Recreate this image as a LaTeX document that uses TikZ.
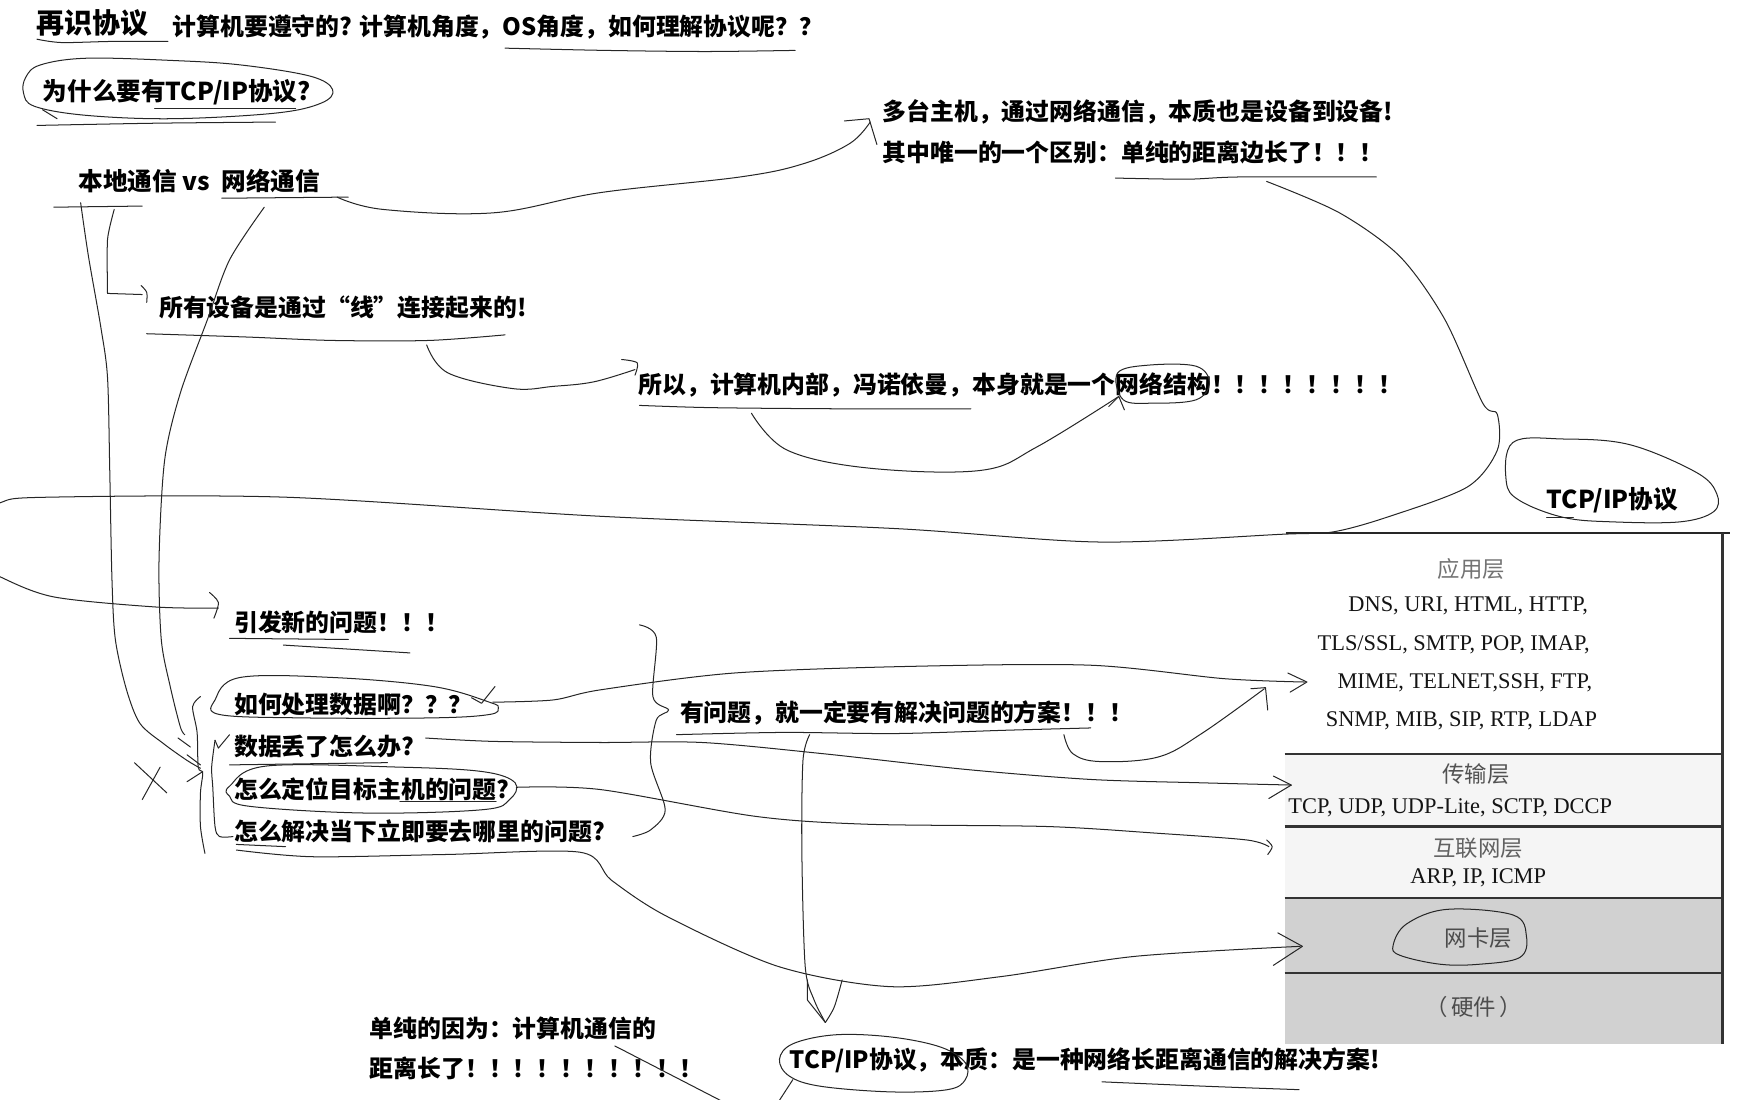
\documentclass[tikz,border=0pt]{standalone}
\usepackage{fontspec}
\newfontfamily\cjk{Noto Sans CJK SC}
\newfontfamily\tser{Liberation Serif}
\begin{document}
\begin{tikzpicture}[x=1pt,y=-1pt,
  hand/.style={line width=0.9pt,black!85,line cap=round,line join=round},
  txt/.style={anchor=west,inner sep=0pt,font=\cjk\bfseries\fontsize{21.3}{21.3}\selectfont},
  big/.style={font=\cjk\bfseries\fontsize{25}{25}\selectfont},
  mid/.style={font=\cjk\bfseries\fontsize{22}{22}\selectfont},
  tlat/.style={inner sep=0pt,font=\tser\fontsize{20}{20}\selectfont,text=black!92},
  tcjk/.style={inner sep=0pt,font=\cjk\fontsize{20}{20}\selectfont,text=black!55},
  rule/.style={line width=2pt,black!80}]
\useasboundingbox (0,0) rectangle (1568,982);
\clip (0,0) rectangle (1568,982);

% ---------- table ----------
\fill[black!4] (1147,673) rectangle (1538,802);
\fill[black!18] (1147,802) rectangle (1538,932);
\draw[line width=2.4pt,black!85] (1148,476) -- (1545,476);
\draw[line width=2.2pt,black!80] (1538,476) -- (1538,932);
\foreach \yy in {673,738,802,869} \draw[rule] (1147,\yy) -- (1538,\yy);
\node[tcjk] (app) at (1314,508) {应用层};
\node[tlat] (a1) at (1311,541) {DNS, URI, HTML, HTTP,};
\node[tlat] (a2) at (1298,576) {TLS/SSL, SMTP, POP, IMAP,};
\node[tlat] (a3) at (1308,610) {MIME, TELNET,SSH, FTP,};
\node[tlat] (a4) at (1305,644) {SNMP, MIB, SIP, RTP, LDAP};
\node[tcjk,text=black!68] (tra) at (1318,691) {传输层};
\node[tlat] (t1) at (1295,721) {TCP, UDP, UDP-Lite, SCTP, DCCP};
\node[tcjk,text=black!62] (net) at (1320,757) {互联网层};
\node[tlat] (n1) at (1320,784) {ARP, IP, ICMP};
\node[tcjk,text=black!70] (nic) at (1320,838) {网卡层};
\node[tcjk,text=black!70] (hw) at (1316,899) {（\,硬件\,）};

% ---------- texts ----------
\node[txt,big] (title) at (32,21) {再识协议};
\node[txt] (sub) at (154,24) {计算机要遵守的? 计算机角度，OS角度，如何理解协议呢？？};
\node[txt,mid] (why) at (38,82) {为什么要有TCP/IP协议?};
\node[txt,mid] (lvs) at (70,162) {本地通信 vs\ \ 网络通信};
\node[txt] (multi) at (788,100) {多台主机，通过网络通信，本质也是设备到设备!};
\node[txt] (diff) at (788,136) {其中唯一的一个区别：单纯的距离边长了！！！};
\node[txt] (line) at (142,275) {所有设备是通过“线”连接起来的!};
\node[txt] (vn) at (570,344) {所以，计算机内部，冯诺依曼，本身就是一个网络结构！！！！！！！！};
\node[txt,mid] (tcpip) at (1381,447) {TCP/IP协议};
\node[txt] (newq) at (209,556) {引发新的问题！！！};
\node[txt] (q1) at (209,629) {如何处理数据啊？？？};
\node[txt] (q2) at (209,667) {数据丢了怎么办?};
\node[txt] (q3) at (209,705) {怎么定位目标主机的问题?};
\node[txt] (q4) at (209,742) {怎么解决当下立即要去哪里的问题?};
\node[txt] (sol) at (607,637) {有问题，就一定要有解决问题的方案！！！};
\node[txt] (why2) at (330,918) {单纯的因为：计算机通信的};
\node[txt] (far) at (330,954) {距离长了！！！！！！！！！！};
\node[txt] (ess) at (705,947) {TCP/IP协议，本质：是一种网络长距离通信的解决方案!};

% ---------- underlines & strokes ----------
\draw[hand] plot[smooth] coordinates {(33,35) (55,38) (100,37) (150,37)};
\draw[hand] plot[smooth] coordinates {(451,43) (540,45) (630,46) (710,45)};
% ellipse why
\draw[hand] plot[smooth cycle,tension=0.6] coordinates {(23,69) (36,58) (77,52) (154,54) (215,58) (277,68) (297,80) (287,92) (246,101) (154,106) (77,103) (31,95) (21,83)};
\draw[hand] (138,97) -- (264,97);
\draw[hand] plot[smooth] coordinates {(33,112) (140,110) (246,109)};
\draw[hand] (38,98) -- (51,106);
% local vs net
\draw[hand] (48,185) -- (127,184);
\draw[hand] (198,177) -- (311,176);
\draw[hand] plot[smooth,tension=0.6] coordinates {(301,176) (342,187) (441,190) (536,172) (661,158) (718,146) (759,128) (777,109)};
\draw[hand] (754,108) -- (776,106) -- (783,129);
% diff underline and big curve
\draw[hand] plot[smooth] coordinates {(996,159) (1060,160) (1108,158) (1229,158)};
\draw[hand] plot[smooth,tension=0.5] coordinates {(1131,162) (1196,190) (1250,229) (1290,285) (1324,360) (1337,370) (1337,402) (1310,435) (1238,462) (1190,475) (1146,477) (982,484) (800,472) (536,461) (256,444) (41,444) (0,449) (-28,468) (-24,500) (0,515) (48,533) (139,542) (195,543)};
\draw[hand] plot[smooth] coordinates {(187,529) (195,538) (191,552)};
% bracket to "line"
\draw[hand] plot[smooth,tension=0.4] coordinates {(102,187) (96,214) (96,262)};
\draw[hand] (96,262) -- (127,263);
\draw[hand] plot[smooth] coordinates {(126,255) (131,261) (131,270)};
% long verticals
\draw[hand] plot[smooth,tension=0.5] coordinates {(72,181) (79,229) (90,292) (96,337) (98,420) (100,518) (103,571) (113,616) (125,646) (146,664) (167,679) (179,686)};
\draw[hand] plot[smooth,tension=0.5] coordinates {(236,185) (205,232) (185,286) (161,351) (147,411) (142,500) (144,571) (152,613) (161,649) (165,656)};
\draw[hand] (159,659) -- (170,667);
\draw[hand] (167,674) -- (179,683);
\draw[hand] (167,698) -- (181,689);
\draw[hand] (120,681) -- (149,708);
\draw[hand] (143,685) -- (127,714);
\draw[hand] plot[smooth,tension=0.5] coordinates {(179,622) (172,631) (176,654) (177,685) (181,690) (179,708) (179,738) (183,762)};
\draw[hand] (192,661) -- (195,668) -- (205,656);
\draw[hand] plot[smooth,tension=0.5] coordinates {(192,661) (189,685) (190,703) (192,738) (196,747) (208,747)};
% line underline and curve to vn
\draw[hand] plot[smooth] coordinates {(131,298) (222,301) (297,304) (383,304) (451,299)};
\draw[hand] plot[smooth,tension=0.6] coordinates {(381,308) (400,333) (458,347) (494,345) (530,341) (567,330)};
\draw[hand] plot[smooth] coordinates {(555,321) (569,324) (567,335)};
% vn underline, curve to network
\draw[hand] plot[smooth] coordinates {(571,362) (635,364) (745,365) (867,365)};
\draw[hand] plot[smooth,tension=0.6] coordinates {(671,369) (703,402) (776,418) (876,420) (926,399) (999,354)};
\draw[hand] (990,363) -- (999,354) -- (1004,366);
\draw[hand] plot[smooth cycle,tension=0.6] coordinates {(998,333) (1026,326) (1068,327) (1080,342) (1068,357) (1030,360) (1003,357)};
% TCP/IP ellipse right
\draw[hand] plot[smooth cycle,tension=0.6] coordinates {(1351,395) (1396,392) (1455,397) (1515,422) (1533,441) (1530,457) (1500,466) (1440,466) (1396,462) (1357,447) (1345,430)};
\draw[hand] (1381,462) -- (1405,462);
% NIC ellipse
\draw[hand] plot[smooth cycle,tension=0.6] coordinates {(1244,844) (1256,825) (1292,812) (1351,817) (1363,836) (1357,855) (1321,861) (1286,861) (1250,853)};
% new problems underlines
\draw[hand] (205,570) -- (311,571);
\draw[hand] (253,576) -- (366,583);
% q1 ellipse and arrow
\draw[hand] plot[smooth cycle,tension=0.6] coordinates {(192,625) (214,605) (298,605) (387,613) (437,627) (445,632) (437,638) (387,641) (268,641) (196,638)};
\draw[hand] (421,623) -- (430,628) -- (442,613);
\draw[hand] plot[smooth,tension=0.5] coordinates {(440,627) (494,625) (536,616) (655,601) (814,595) (974,594) (1093,606) (1165,609)};
\draw[hand] (1150,601) -- (1167,609) -- (1152,618);
% q2 underline and arrow
\draw[hand] (205,683) -- (346,681);
\draw[hand] plot[smooth,tension=0.5] coordinates {(380,659) (440,662) (536,663) (627,663) (735,673) (862,687) (974,696) (1073,699) (1153,701)};
\draw[hand] (1137,693) -- (1153,701) -- (1133,713);
% q3 ellipse and arrow
\draw[hand] plot[smooth cycle,tension=0.6] coordinates {(205,702) (238,684) (357,685) (431,689) (460,699) (455,714) (431,723) (327,726) (223,720) (205,711)};
\draw[hand] (357,716) -- (443,716);
\draw[hand] plot[smooth,tension=0.5] coordinates {(461,703) (536,705) (675,729) (775,736) (934,738) (1033,744) (1113,750) (1133,756)};
\draw[hand] plot[smooth] coordinates {(1131,750) (1136,756) (1132,763)};
% q4 underline and curve to NIC
\draw[hand] (211,754) -- (255,756);
\draw[hand] plot[smooth,tension=0.5] coordinates {(211,759) (279,765) (398,763) (518,761) (546,786) (595,818) (695,863) (795,881) (894,872) (1013,854) (1161,845)};
\draw[hand] (1141,833) -- (1163,845) -- (1137,862);
% brace
\draw[hand] plot[smooth,tension=0.5] coordinates {(571,558) (586,569) (583,622) (597,634) (586,643) (581,681) (594,723) (581,741) (565,747)};
% solution underline and arrows
\draw[hand] plot[smooth] coordinates {(604,656) (700,654) (800,655) (900,652) (974,650)};
\draw[hand] plot[smooth,tension=0.6] coordinates {(950,656) (958,673) (982,680) (1034,676) (1073,655) (1129,615)};
\draw[hand] (1117,615) -- (1130,614) -- (1132,634);
\draw[hand] plot[smooth,tension=0.5] coordinates {(723,656) (717,679) (716,760) (719,863) (727,893) (737,913)};
\draw[hand] (721,875) -- (721,893) -- (737,913);
\draw[hand] plot[smooth] coordinates {(752,875) (745,899) (737,913)};
% bottom ellipse
\draw[hand] plot[smooth cycle,tension=0.6] coordinates {(696,946) (708,932) (746,924) (796,926) (840,935) (862,949) (862,964) (846,973) (796,975) (733,970) (705,961)};
\draw[hand] (708,964) -- (695,984);
\draw[hand] plot[smooth] coordinates {(984,966) (1078,970) (1160,973)};
\draw[hand] (549,934) -- (553,936) -- (646,984);
\end{tikzpicture}
\end{document}
